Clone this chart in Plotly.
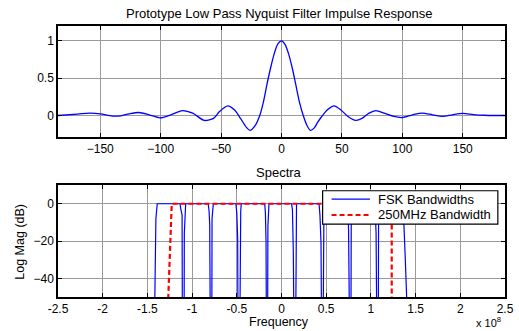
import plotly.graph_objects as go

# ---------------- data ----------------
# Prototype low-pass Nyquist filter impulse response
imp_t = [-185, -169, -159, -150, -140, -133, -126, -118, -109.5, -100.5, -91.5, -82, -73.5,
         -64, -56, -51.5, -44.5, -39, -33.5, -29, -26, -22, -18, -15, -12, -9, -6, -3,
         0, 3, 6, 9, 12, 15, 18, 21, 24, 27, 30, 33, 38, 43.5, 49, 55, 61.5, 67, 72.5,
         78, 85, 93, 100, 108.5, 116.5, 125, 133, 141.5, 150, 159, 168, 176, 185]
imp_v = [0, 0.018, 0.032, 0.023, -0.008, -0.004, 0.023, 0.04, 0.009, -0.031, 0.009, 0.066, 0.032,
         -0.066, -0.035, 0.05, 0.129, 0.076, -0.05, -0.16, -0.2, -0.14, 0.0, 0.18, 0.42, 0.64, 0.83, 0.96,
         1.0, 0.95, 0.82, 0.63, 0.4, 0.17, 0.0, -0.13, -0.2, -0.17, -0.09, -0.02, 0.076, 0.13, 0.076,
         -0.013, -0.066, -0.035, 0.032, 0.066, 0.032, -0.013, -0.027, 0.009, 0.032, 0.009, -0.013,
         0.009, 0.027, 0.012, 0.003, 0, 0]

# FSK bandwidth spectra (frequency in units of 1e8 Hz, magnitude in dB)
fsk_freq = [-1.425, -1.42, -1.413, -1.405, -1.39,
            -1.135, -1.126, -1.112, -1.108, -1.09, -1.087, -1.078, -1.072,
            -0.82, -0.81, -0.803, -0.795, -0.78, -0.777, -0.768, -0.762,
            -0.51, -0.5, -0.49, -0.486, -0.468, -0.464, -0.456, -0.45,
            -0.188, -0.18, -0.173, -0.168, -0.156, -0.152, -0.146, -0.14,
            0.112, 0.122, 0.132, 0.142, 0.157, 0.162, 0.168,
            0.42, 0.43, 0.442, 0.45, 0.464, 0.468, 0.475,
            0.735, 0.745, 0.75, 0.764, 0.776, 0.78, 0.79,
            1.04, 1.05, 1.058, 1.068, 1.082, 1.086, 1.095,
            1.36, 1.37, 1.385, 1.40, 1.405]
fsk_db = [-80, -50, -20, -8, 0,
          0, -3, -6, -80, -80, -16, -3, 0,
          0, -4, -11, -80, -80, -8, -3, 0,
          0, -5, -19, -80, -80, -8, -4, 0,
          0, -5, -20, -80, -80, -12, -5, 0,
          0, -3, -25, -80, -80, -5, 0,
          0, -6, -21, -80, -80, -8, 0,
          0, -5, -14, -80, -80, -10, 0,
          0, -6, -16, -80, -80, -8, 0,
          0, -10, -30, -50, -80]

# 250 MHz bandwidth
bw_freq = [-1.267, -1.228, 1.233, 1.233]
bw_db = [-51, 0, 0, -51]

imp_ticks = [-150, -100, -50, 0, 50, 100, 150]
imp_yticks = [0, 0.5, 1]
imp_yticktext = ["0", "0.5", "1"]
spec_xticks = [-2.5, -2, -1.5, -1, -0.5, 0, 0.5, 1, 1.5, 2, 2.5]
spec_xticktext = ["-2.5", "-2", "-1.5", "-1", "-0.5", "0", "0.5", "1", "1.5", "2", "2.5"]
spec_yticks = [-40, -20, 0]

# ---------------- figure ----------------
FONT = "Liberation Sans, Arial, sans-serif"
FS_TICK = 12
FS = 13

fig = go.Figure()
fig.add_trace(go.Scatter(x=imp_t, y=imp_v, mode="lines", line=dict(color="#0000ff", width=1.3, shape="spline", smoothing=0.8),
                         xaxis="x", yaxis="y", showlegend=False))
fig.add_trace(go.Scatter(x=fsk_freq, y=fsk_db, mode="lines", line=dict(color="#0000ff", width=1.2),
                         xaxis="x2", yaxis="y2", name="FSK Bandwidths", showlegend=False))
fig.add_trace(go.Scatter(x=bw_freq, y=bw_db, mode="lines", line=dict(color="#ff0000", width=2.2, dash="5px,3px"),
                         xaxis="x2", yaxis="y2", name="250MHz Bandwidth", showlegend=False))

axis_common = dict(showline=True, linecolor="black", linewidth=1.5, mirror="ticks",
                   ticks="inside", ticklen=4, tickcolor="black", tickwidth=1,
                   showgrid=True, gridcolor="#9a9a9a", gridwidth=1, zeroline=False,
                   automargin=False,
                   tickfont=dict(family=FONT, size=FS_TICK, color="black"))

TOP_LO, TOP_HI = 0.590, 1.0
BOT_LO, BOT_HI = 0.0, 0.413

fig.update_layout(
    template="none",
    width=519, height=331, autosize=False,
    margin=dict(l=58, r=14, t=26, b=34, pad=0),
    paper_bgcolor="white", plot_bgcolor="white",
    showlegend=False,
    xaxis=dict(axis_common, domain=[0, 1], anchor="y", range=[-185, 185], tickvals=imp_ticks),
    yaxis=dict(axis_common, domain=[TOP_LO, TOP_HI], anchor="x", range=[-0.29, 1.2],
               tickvals=imp_yticks, ticktext=imp_yticktext),
    xaxis2=dict(axis_common, domain=[0, 1], anchor="y2", range=[-2.5, 2.5],
                tickvals=spec_xticks, ticktext=spec_xticktext),
    yaxis2=dict(axis_common, domain=[BOT_LO, BOT_HI], anchor="x2", range=[-50, 10], tickvals=spec_yticks),
)

def ann(text, x, y, size=FS, **kw):
    d = dict(text=text, x=x, y=y, xref="paper", yref="paper", showarrow=False, borderpad=0,
             font=dict(family=FONT, size=size, color="black"), xanchor="center", yanchor="middle")
    d.update(kw)
    fig.add_annotation(**d)

ann("Prototype Low Pass Nyquist Filter Impulse Response", 0.494, 1.0443)
ann("Spectra", 0.494, 0.4576)
ann("Frequency", 0.494, -0.1218, size=12.5, yanchor="bottom")
ann("x 10<sup>8</sup>", 0.962, -0.1218, size=11, yanchor="bottom")
ann("Log Mag (dB)", -0.085, 0.204, textangle=-90, size=12.5)

# legend box (drawn manually to match the original placement)
lx0, lx1, ly0, ly1 = 0.592, 0.984, 0.269, 0.392
fig.add_shape(type="rect", xref="paper", yref="paper", x0=lx0, x1=lx1, y0=ly0, y1=ly1,
              line=dict(color="black", width=1.2), fillcolor="white", layer="above")
fig.add_shape(type="line", xref="paper", yref="paper", x0=0.612, x1=0.698, y0=0.361, y1=0.361,
              line=dict(color="#0000ff", width=1.2), layer="above")
fig.add_shape(type="line", xref="paper", yref="paper", x0=0.612, x1=0.698, y0=0.3026, y1=0.3026,
              line=dict(color="#ff0000", width=2.2, dash="5px,3px"), layer="above")
ann("FSK Bandwidths", 0.713, 0.361, xanchor="left")
ann("250MHz Bandwidth", 0.713, 0.3026, xanchor="left")

fig.write_html("out.html", config={"displayModeBar": False},
               post_script="document.body.style.margin='0';document.body.style.padding='0';")
